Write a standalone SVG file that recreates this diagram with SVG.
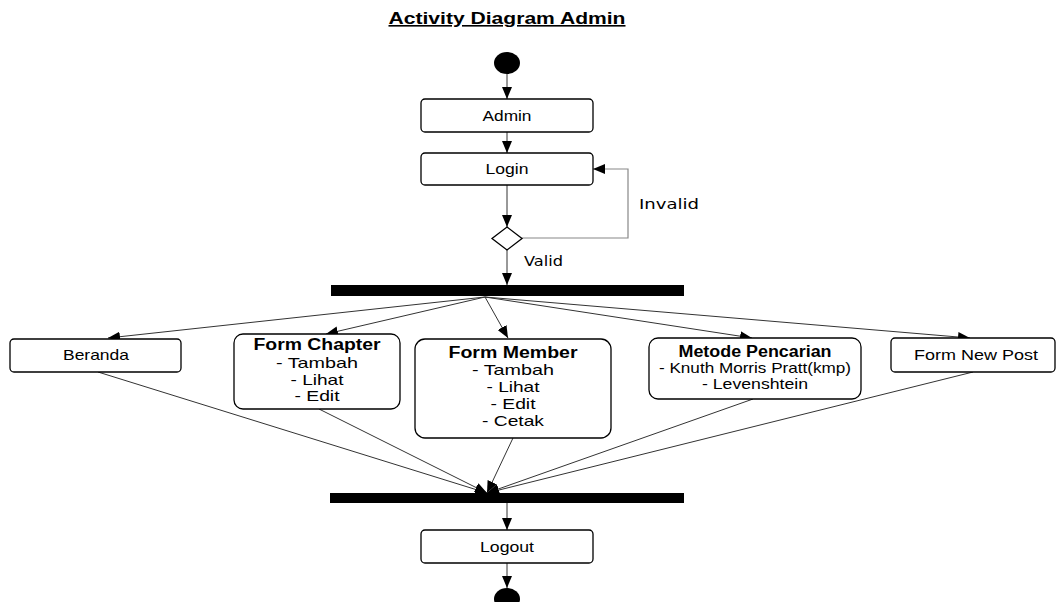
<svg xmlns="http://www.w3.org/2000/svg" width="1057" height="602" viewBox="0 0 1057 602">
<defs>
<marker id="ah" markerUnits="userSpaceOnUse" markerWidth="12" markerHeight="10" refX="12" refY="5" orient="auto">
<path d="M0,0 L12,5 L0,10 z" fill="#000"/>
</marker>
<style>
.box{fill:#fff;stroke:#000;stroke-width:1.3}
.t{font-family:"Liberation Sans",Arial,sans-serif;font-size:15px;fill:#000;text-anchor:middle}
.b{font-family:"Liberation Sans",Arial,sans-serif;font-size:16px;font-weight:bold;fill:#000;text-anchor:middle}
.lbl{font-family:"DejaVu Sans",sans-serif;font-size:14.5px;fill:#000}
.c{fill:none;stroke:#333;stroke-width:1;marker-end:url(#ah)}
.g{fill:none;stroke:#888;stroke-width:1.2;marker-end:url(#ah)}
</style>
</defs>
<rect width="1057" height="602" fill="#fff"/>
<text x="507" y="24" class="b" font-size="16.5" textLength="237" lengthAdjust="spacingAndGlyphs" text-decoration="underline">Activity Diagram Admin</text>

<g id="connectors">
<line x1="507" y1="74" x2="507" y2="99" class="c"/>
<line x1="507" y1="132" x2="507" y2="153" class="c"/>
<line x1="507" y1="185" x2="507" y2="227" class="c"/>
<polyline points="522,238 628,238 628,169 593,169" class="g"/>
<line x1="507" y1="250" x2="507" y2="285" class="c"/>
<line x1="485" y1="297" x2="108" y2="338" class="c"/>
<line x1="485" y1="297" x2="326" y2="334" class="c"/>
<line x1="485" y1="297" x2="508" y2="338" class="c"/>
<line x1="485" y1="297" x2="752" y2="338" class="c"/>
<line x1="485" y1="297" x2="970" y2="338" class="c"/>
<line x1="98" y1="372" x2="487" y2="493" class="c"/>
<line x1="319" y1="409" x2="487" y2="493" class="c"/>
<line x1="513" y1="438" x2="487" y2="493" class="c"/>
<line x1="753" y1="399" x2="487" y2="493" class="c"/>
<line x1="973" y1="372" x2="487" y2="493" class="c"/>
<line x1="507" y1="503" x2="507" y2="530" class="c"/>
<line x1="507" y1="563" x2="507" y2="588" class="c"/>
<text x="639" y="209" class="lbl" textLength="60" lengthAdjust="spacingAndGlyphs">Invalid</text>
<text x="524" y="266" class="lbl" textLength="39" lengthAdjust="spacingAndGlyphs">Valid</text>
</g>

<g id="start"><ellipse cx="507" cy="63" rx="13" ry="11" fill="#000"/></g>
<g id="admin"><rect x="421" y="99" width="172" height="33" rx="4" class="box"/><text x="507" y="121" class="t" textLength="49" lengthAdjust="spacingAndGlyphs">Admin</text></g>
<g id="login"><rect x="421" y="153" width="172" height="32" rx="4" class="box"/><text x="507" y="174" class="t" textLength="43" lengthAdjust="spacingAndGlyphs">Login</text></g>
<g id="decision"><polygon points="507,227 522,238.5 507,250 492,238.5" class="box"/></g>
<g id="fork"><rect x="331" y="285" width="353" height="11" fill="#000"/></g>

<g id="beranda"><rect x="10" y="339" width="171" height="33" rx="4" class="box"/><text x="96" y="360" class="t" textLength="66" lengthAdjust="spacingAndGlyphs">Beranda</text></g>
<g id="formchapter"><rect x="234" y="334" width="166" height="75" rx="9" class="box"/>
<text x="317" y="350" class="b" textLength="127" lengthAdjust="spacingAndGlyphs">Form Chapter</text>
<text x="317" y="368" class="t" font-size="16" textLength="82" lengthAdjust="spacingAndGlyphs">- Tambah</text>
<text x="317" y="385" class="t" font-size="16" textLength="53" lengthAdjust="spacingAndGlyphs">- Lihat</text>
<text x="317" y="401" class="t" font-size="16" textLength="45" lengthAdjust="spacingAndGlyphs">- Edit</text></g>
<g id="formmember"><rect x="415" y="339" width="196" height="99" rx="10" class="box"/>
<text x="513" y="358" class="b" textLength="129" lengthAdjust="spacingAndGlyphs">Form Member</text>
<text x="513" y="375" class="t" font-size="16" textLength="82" lengthAdjust="spacingAndGlyphs">- Tambah</text>
<text x="513" y="392" class="t" font-size="16" textLength="53" lengthAdjust="spacingAndGlyphs">- Lihat</text>
<text x="513" y="409" class="t" font-size="16" textLength="45" lengthAdjust="spacingAndGlyphs">- Edit</text>
<text x="513" y="426" class="t" font-size="16" textLength="62" lengthAdjust="spacingAndGlyphs">- Cetak</text></g>
<g id="metode"><rect x="649" y="338" width="212" height="61" rx="9" class="box"/>
<text x="755" y="357" class="b" font-size="14.5" textLength="153" lengthAdjust="spacingAndGlyphs">Metode Pencarian</text>
<text x="755" y="373" class="t" textLength="192" lengthAdjust="spacingAndGlyphs">- Knuth Morris Pratt(kmp)</text>
<text x="755" y="389" class="t" textLength="106" lengthAdjust="spacingAndGlyphs">- Levenshtein</text></g>
<g id="formnewpost"><rect x="891" y="338" width="164" height="34" rx="4" class="box"/><text x="976" y="360" class="t" textLength="124" lengthAdjust="spacingAndGlyphs">Form New Post</text></g>

<g id="join"><rect x="330" y="493" width="354" height="10" fill="#000"/></g>
<g id="logout"><rect x="421" y="530" width="172" height="33" rx="4" class="box"/><text x="507" y="552" class="t" textLength="54" lengthAdjust="spacingAndGlyphs">Logout</text></g>
<g id="end"><ellipse cx="507" cy="599" rx="13" ry="11" fill="#000"/></g>
</svg>
